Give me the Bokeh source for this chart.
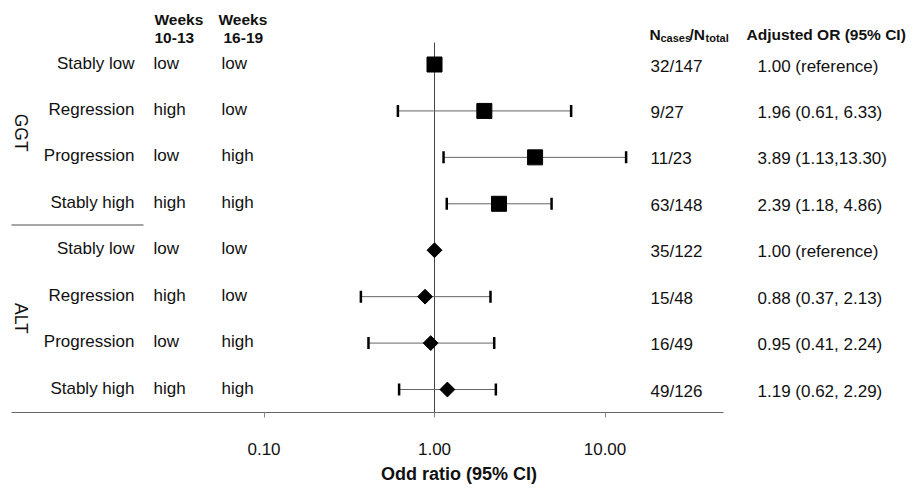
import math
from bokeh.plotting import figure
from bokeh.models import (Range1d, LogScale, LogAxis, FixedTicker,
                          PrintfTickFormatter, ColumnDataSource)
from bokeh.core.properties import value
from bokeh.embed import file_html
from bokeh.resources import INLINE

# ---------------- data ----------------
groups = ["GGT"] * 4 + ["ALT"] * 4
patterns = ["Stably low", "Regression", "Progression", "Stably high"] * 2
wk10_13 = ["low", "high", "low", "high"] * 2
wk16_19 = ["low", "low", "high", "high"] * 2
n_cases = [32, 9, 11, 63, 35, 15, 16, 49]
n_total = [147, 27, 23, 148, 122, 48, 49, 126]
odds = [1.00, 1.96, 3.89, 2.39, 1.00, 0.88, 0.95, 1.19]
ci_low = [None, 0.61, 1.13, 1.18, None, 0.37, 0.41, 0.62]
ci_high = [None, 6.33, 13.30, 4.86, None, 2.13, 2.24, 2.29]
or_labels = ["1.00 (reference)", "1.96 (0.61, 6.33)", "3.89 (1.13,13.30)",
             "2.39 (1.18, 4.86)", "1.00 (reference)", "0.88 (0.37, 2.13)",
             "0.95 (0.41, 2.24)", "1.19 (0.62, 2.29)"]
x_ticks = [0.1, 1, 10]

# ---------------- layout ----------------
W, H = 917, 488
FY1 = 412                  # frame bottom (axis line)
ONE_PX, DECADE = 434.0, 170.5
ROW0, STEP = 64.0, 46.43
FONT = "Liberation Sans"
TXT = "#111111"
DY = -5                    # glyph text baseline correction

def px_to_or(px):
    return 10 ** ((px - ONE_PX) / DECADE)

row_y = [ROW0 + STEP * i for i in range(len(odds))]

p = figure(width=W, height=H, x_range=Range1d(0, W), y_range=Range1d(FY1, 0),
           output_backend="svg", toolbar_location=None,
           x_axis_location=None, y_axis_location=None,
           min_border_left=0, min_border_right=0, min_border_top=0,
           min_border_bottom=H - FY1)
p.outline_line_color = None
p.background_fill_color = "white"
p.border_fill_color = "white"
p.grid.visible = False

p.extra_x_ranges = {"or": Range1d(px_to_or(0), px_to_or(W))}
p.extra_x_scales = {"or": LogScale()}

ax = LogAxis(x_range_name="or", ticker=FixedTicker(ticks=x_ticks),
             formatter=PrintfTickFormatter(format="%.2f"),
             bounds=(px_to_or(11), px_to_or(723)),
             axis_label="Odd ratio (95% CI)")
ax.axis_line_color = "#666666"
ax.axis_line_width = 1
ax.major_tick_line_color = "#888888"
ax.major_tick_out = 5
ax.major_tick_in = 0
ax.minor_tick_line_color = None
ax.major_label_standoff = 25
ax.major_label_text_font = FONT
ax.major_label_text_font_size = "17px"
ax.major_label_text_color = TXT
ax.axis_label_standoff = 6
ax.axis_label_text_font = FONT
ax.axis_label_text_font_size = "18px"
ax.axis_label_text_font_style = "bold"
ax.axis_label_text_color = TXT
p.add_layout(ax, "below")

# reference line at OR = 1
p.segment(x0=1, x1=1, y0=42, y1=FY1, x_range_name="or",
          line_color="#444444", line_width=1)

# separator between the two groups
p.segment(x0=11, x1=143, y0=224.5, y1=224.5, line_color="#888888", line_width=1.5)

# confidence intervals
ci_idx = [i for i in range(len(odds)) if ci_low[i] is not None]
ci_src = ColumnDataSource(dict(lo=[ci_low[i] for i in ci_idx],
                               hi=[ci_high[i] for i in ci_idx],
                               y=[row_y[i] for i in ci_idx]))
p.segment(x0="lo", x1="hi", y0="y", y1="y", source=ci_src, x_range_name="or",
          line_color="#666666", line_width=1)
for col in ("lo", "hi"):
    p.scatter(x=col, y="y", source=ci_src, x_range_name="or", marker="dash",
              angle=math.pi / 2, size=12, line_width=2.5, line_color="black")

# point estimates
g_idx = [i for i in range(len(odds)) if groups[i] == "GGT"]
a_idx = [i for i in range(len(odds)) if groups[i] == "ALT"]
ggt_src = ColumnDataSource(dict(x=[odds[i] for i in g_idx], y=[row_y[i] for i in g_idx]))
alt_src = ColumnDataSource(dict(x=[odds[i] for i in a_idx], y=[row_y[i] for i in a_idx]))
p.scatter(x="x", y="y", source=ggt_src, x_range_name="or", marker="square",
          size=15, fill_color="black", line_color="black")
p.scatter(x="x", y="y", source=alt_src, x_range_name="or", marker="square",
          angle=math.pi / 4, size=10.5, fill_color="black", line_color="black")

# table texts
tab = ColumnDataSource(dict(
    yl=[y + 3.5 + DY for y in row_y], yr=[y + 6.5 + DY for y in row_y],
    pat=patterns, w1=wk10_13, w2=wk16_19,
    n=[f"{c}/{t}" for c, t in zip(n_cases, n_total)], orl=or_labels))

base = dict(source=tab, text_baseline="alphabetic", text_font=value(FONT),
            text_font_size="17px", text_color=TXT)
p.text(x=134, y="yl", text="pat", text_align="right", **base)
p.text(x=153, y="yl", text="w1", text_align="left", **base)
p.text(x=221, y="yl", text="w2", text_align="left", **base)
p.text(x=650, y="yr", text="n", text_align="left", **base)
p.text(x=757, y="yr", text="orl", text_align="left", **base)

# group labels (rotated, reading top to bottom)
gy = [sum(row_y[i] for i in g_idx) / len(g_idx) - 1.5,
      sum(row_y[i] for i in a_idx) / len(a_idx) - 1.5]
p.text(x=[15 - DY, 15 - DY], y=gy, text=["GGT", "ALT"], angle=-math.pi / 2,
       text_align="center", text_baseline="alphabetic", text_font=value(FONT),
       text_font_size="17.5px", text_color=TXT)

# headers
hdr = dict(text_baseline="alphabetic", text_font=value(FONT), text_color=TXT,
           text_font_style="bold", text_align="left")
p.text(x=[154, 218], y=[24 + DY] * 2, text=["Weeks", "Weeks"], text_font_size="15.5px", **hdr)
p.text(x=[154, 223], y=[42.5 + DY] * 2, text=["10-13", "16-19"], text_font_size="15.5px", **hdr)
p.text(x=[746], y=[39 + DY], text=["Adjusted OR (95% CI)"], text_font_size="15.5px", **hdr)
p.text(x=[649, 689], y=[39 + DY] * 2, text=["N", "/N"], text_font_size="15.5px", **hdr)
p.text(x=[660, 705], y=[42 + DY] * 2, text=["cases", "total"], text_font_size="11px", **hdr)

open("out.html", "w").write(file_html(p, INLINE))
